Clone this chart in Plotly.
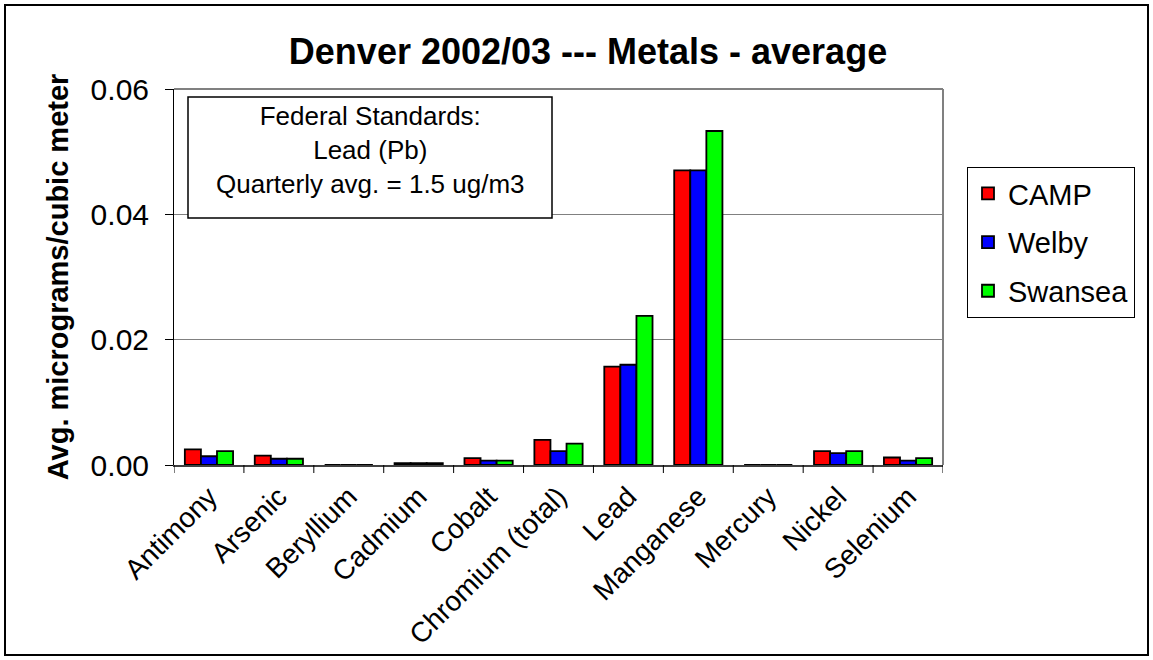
import plotly.graph_objects as go

categories = ["Antimony", "Arsenic", "Beryllium", "Cadmium", "Cobalt", "Chromium (total)",
              "Lead", "Manganese", "Mercury", "Nickel", "Selenium"]
camp = [0.0025, 0.0015, 0.0, 0.0003, 0.0011, 0.0040, 0.0157, 0.0470, 0.0, 0.0022, 0.0012]
welby = [0.0014, 0.0010, 0.0, 0.0003, 0.0007, 0.0022, 0.0160, 0.0470, 0.0, 0.0019, 0.0007]
swansea = [0.0022, 0.0010, 0.0, 0.0003, 0.0007, 0.0034, 0.0238, 0.0533, 0.0, 0.0022, 0.0011]
series_names = ["CAMP", "Welby", "Swansea"]
series_colors = ["#ff0000", "#0000ff", "#00ff00"]
y_ticks = [0.0, 0.02, 0.04, 0.06]
y_ticklabels = ["0.00", "0.02", "0.04", "0.06"]

W, H = 1153, 660
L, R, T, B = 174, 943, 89, 465

def px(x):
    return (x - L) / (R - L)

def py(y):
    return (B - y) / (B - T)

fig = go.Figure()
for i, (name, vals, col) in enumerate(zip(series_names, [camp, welby, swansea], series_colors)):
    fig.add_trace(go.Bar(x=categories, y=vals, name=name, legendgroup=f"g{i}",
                         marker=dict(color=col, line=dict(color="black", width=1.8))))

font = "Liberation Sans, Arial, sans-serif"
fig.update_layout(
    width=W, height=H,
    margin=dict(l=L, r=W - R, t=T, b=H - B, autoexpand=False),
    paper_bgcolor="white", plot_bgcolor="white",
    barmode="group", bargap=0.31, bargroupgap=0,
    font=dict(family=font, color="black"),
    title=dict(text="<b>Denver 2002/03 --- Metals - average</b>", x=588 / W, xanchor="center",
               y=1 - 51 / H, yanchor="middle", font=dict(size=36, family=font, color="black")),
    showlegend=True,
    legend=dict(x=px(967), y=py(167), xanchor="left", yanchor="top",
                bordercolor="black", borderwidth=1, bgcolor="white",
                font=dict(size=29, family=font, color="black"),
                tracegroupgap=8, itemwidth=30),
    xaxis=dict(tickangle=-45, tickfont=dict(size=28, family=font, color="black"),
               showline=True, linecolor="#404040", linewidth=2, mirror=False,
               ticks="", showgrid=False, range=[-0.5, 10.5], ticklabelstandoff=2),
    yaxis=dict(range=[0, 0.06], tickvals=y_ticks, ticktext=y_ticklabels,
               tickfont=dict(size=30, family=font, color="black"),
               ticks="outside", ticklen=8, tickcolor="black", ticklabelstandoff=10,
               showline=True, linecolor="black", linewidth=1,
               showgrid=True, gridcolor="#808080", gridwidth=1, zeroline=False,
               title=dict(text="<b>Avg. micrograms/cubic meter</b>",
                          font=dict(size=29, family=font, color="black"), standoff=13)),
)

# category separator ticks on x axis
for i in range(len(categories) + 1):
    fig.add_shape(type="line", xref="x", yref="paper", x0=i - 0.5, x1=i - 0.5,
                  y0=0, y1=-8 / (B - T), line=dict(color="black", width=1))

# plot area border (top/right)
fig.add_shape(type="line", xref="paper", yref="paper", x0=0, x1=1, y0=1, y1=1,
              line=dict(color="#808080", width=2))
fig.add_shape(type="line", xref="paper", yref="paper", x0=1, x1=1, y0=0, y1=1,
              line=dict(color="#808080", width=2))

# outer chart border
fig.add_shape(type="rect", xref="paper", yref="paper",
              x0=px(5), x1=px(1148), y0=py(655), y1=py(5),
              line=dict(color="black", width=2))

# Federal standards text box
fig.add_shape(type="rect", xref="paper", yref="paper",
              x0=px(188), x1=px(552), y0=py(218), y1=py(97),
              line=dict(color="black", width=1.5), fillcolor="white")
fig.add_annotation(xref="paper", yref="paper", x=px(370), y=py(150),
                   xanchor="center", yanchor="middle", showarrow=False, align="center",
                   text="Federal Standards:<br>Lead (Pb)<br>Quarterly avg. = 1.5 ug/m3",
                   font=dict(size=26, family=font, color="black"))

fig.write_html("out.html")
